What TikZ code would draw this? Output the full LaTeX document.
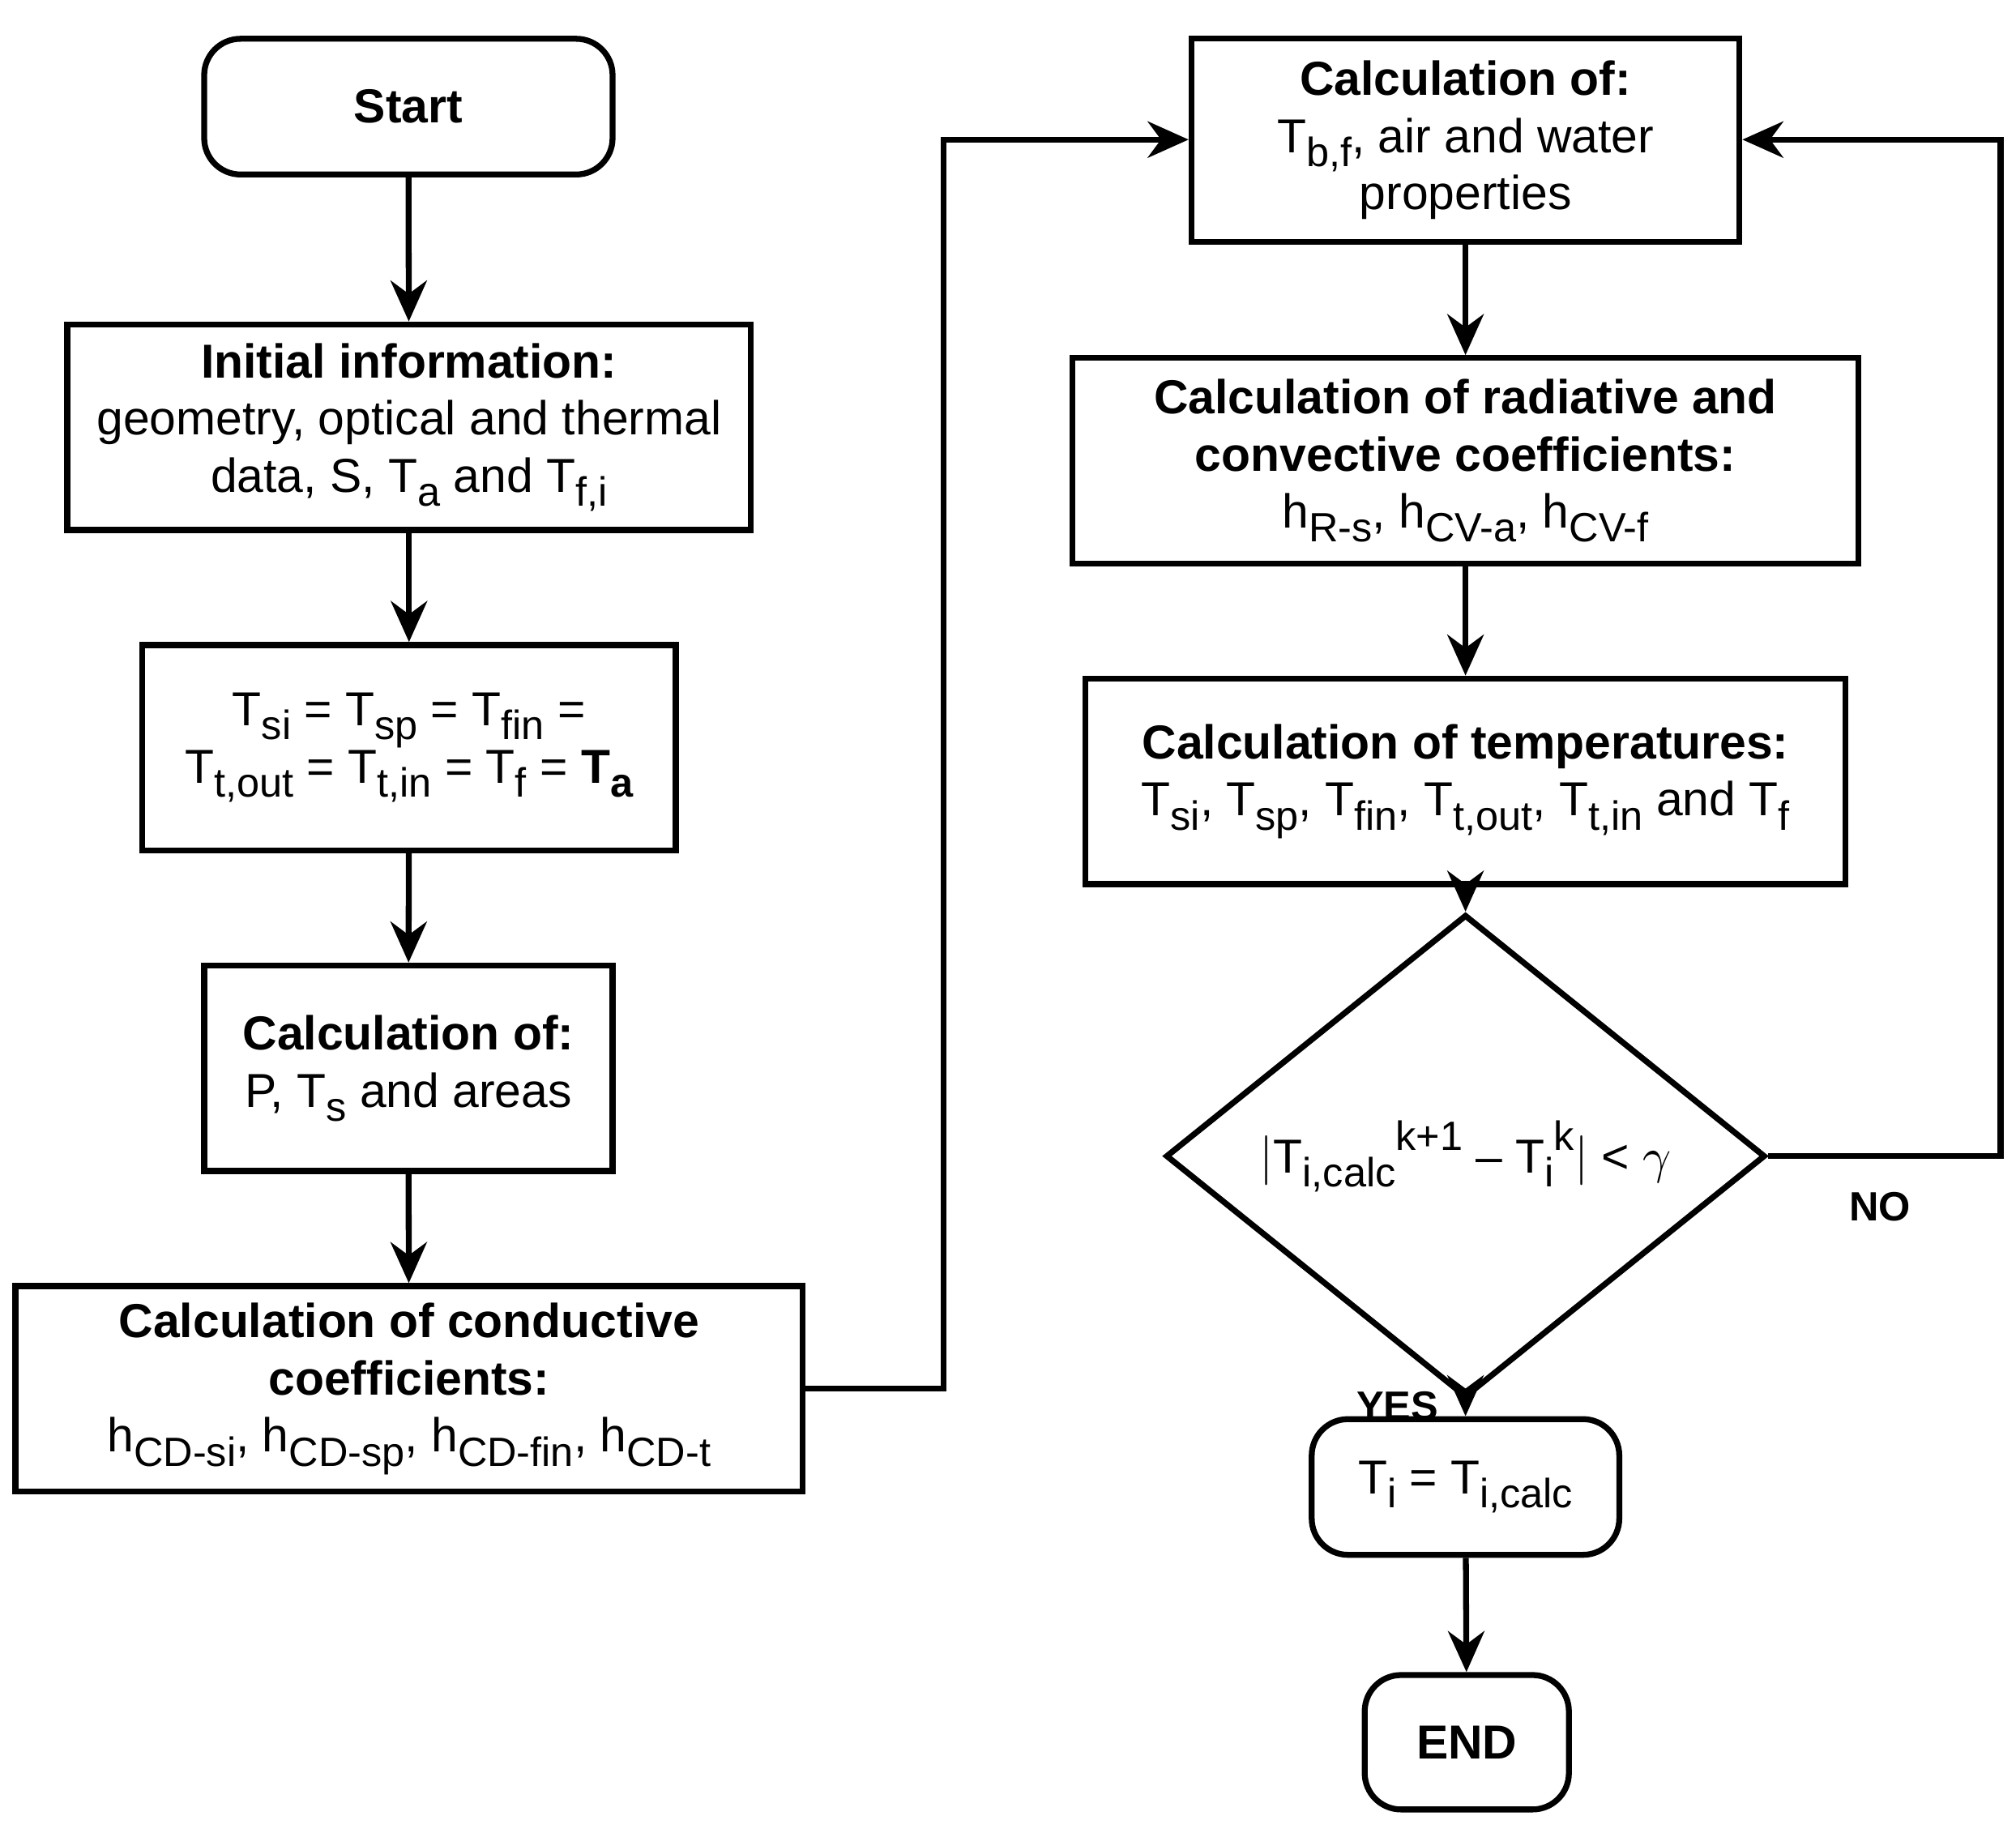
\documentclass[tikz,border=0pt]{standalone}
\usepackage{fontspec}
\setmainfont{Liberation Sans}
\usetikzlibrary{arrows.meta,shapes.geometric}
\newcommand\sbs[1]{\raisebox{-0.55ex}{\small #1}}
\newcommand\sps[1]{\raisebox{0.9ex}{\small #1}}
\tikzset{
  box/.style={draw,line width=1.3pt,align=center,inner sep=2pt,font=\fontsize{10.5pt}{12.6pt}\selectfont},
  rbox/.style={box,rounded corners=8pt},
  dia/.style={box,diamond,minimum width=4.64cm,minimum height=2.61cm,inner sep=0pt},
  flow/.style={line width=1.3pt,-{Stealth[length=9pt,width=8pt]}},
  lab/.style={font=\fontsize{9pt}{11pt}\selectfont\bfseries}
}
\begin{document}
\begin{tikzpicture}
			\useasboundingbox (0,0) rectangle (15.6,-14.146);
			% linke Spalte
			\node[rbox,minimum width=3.16cm,minimum height=1.05cm] (start) at (3.16,-0.825) {\textbf{Start}};
			\node[box,minimum width=5.29cm,minimum height=1.59cm] (init) at (3.165,-3.305) {\textbf{Initial information:}\\geometry, optical and thermal\\data, S, T\sbs{a} and T\sbs{f,i}};
			\node[box,minimum width=4.13cm,minimum height=1.59cm] (tini) at (3.165,-5.785) {T\sbs{si} = T\sbs{sp} = T\sbs{fin} =\\T\sbs{t,out} = T\sbs{t,in} = T\sbs{f} = \textbf{T\sbs{a}}};
			\node[box,minimum width=3.16cm,minimum height=1.59cm] (calcp) at (3.16,-8.265) {\textbf{Calculation of:}\\P, T\sbs{s} and areas};
			\node[box,minimum width=6.09cm,minimum height=1.59cm] (cond) at (3.165,-10.745) {\textbf{Calculation of conductive}\\\textbf{coefficients:}\\h\sbs{CD-si}, h\sbs{CD-sp}, h\sbs{CD-fin}, h\sbs{CD-t}};
			% rechte Spalte
			\node[box,minimum width=4.24cm,minimum height=1.57cm] (prop) at (11.34,-1.085) {\textbf{Calculation of:}\\T\sbs{b,f}, air and water\\properties};
			\node[box,minimum width=6.08cm,minimum height=1.59cm] (coef) at (11.34,-3.565) {\textbf{Calculation of radiative and}\\\textbf{convective coefficients:}\\h\sbs{R-s}, h\sbs{CV-a}, h\sbs{CV-f}};
			\node[box,minimum width=5.88cm,minimum height=1.59cm] (temp) at (11.34,-6.045) {\textbf{Calculation of temperatures:}\\T\sbs{si}, T\sbs{sp}, T\sbs{fin}, T\sbs{t,out}, T\sbs{t,in} and T\sbs{f}};
			\node[dia] (conv) at (11.34,-8.945) {$\big|$T\sbs{i,calc}\sps{k+1} -- T\sbs{i}\sps{k}$\big|$ < $\gamma$};
			\node[rbox,minimum width=2.38cm,minimum height=1.05cm] (upd) at (11.34,-11.505) {T\sbs{i} = T\sbs{i,calc}};
			\node[rbox,minimum width=1.58cm,minimum height=1.04cm] (fin) at (11.35,-13.48) {\textbf{END}};
			% Pfeile
			\draw[flow] (start) -- (init);
			\draw[flow] (init) -- (tini);
			\draw[flow] (tini) -- (calcp);
			\draw[flow] (calcp) -- (cond);
			\draw[flow] (cond.east) -| (7.3,-1.08) -- (prop.west |- 0,-1.08);
			\draw[flow] (prop) -- (coef);
			\draw[flow] (coef) -- (temp);
			\draw[flow] (temp) -- (conv);
			\draw[flow] (conv) -- (upd) node[lab,pos=0.35,left=2pt] {YES};
			\draw[flow] (upd) -- (fin);
			\draw[flow] (conv.east) -- (15.48,-8.945) node[lab,pos=0.48,below=4pt] {NO} |- (prop.east |- 0,-1.08);
		\end{tikzpicture}
\end{document}
